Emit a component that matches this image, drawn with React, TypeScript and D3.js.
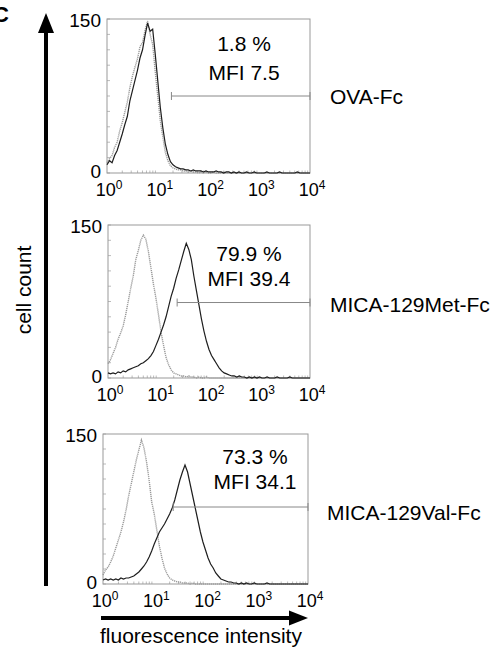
import React from "react";
import * as d3 from "d3";

// Histogram bins: log10 fluorescence from 0 to 4, step 0.05 (81 bins)
const BIN_START = 0;
const BIN_STEP = 0.05;

const OVA_CONTROL = [10, 14, 17, 25, 30, 41, 49, 59, 69, 83, 94, 103, 111, 123, 127, 139, 148, 135, 125, 99, 75, 51, 35, 20, 12, 7, 5, 4, 3, 3, 2, 2, 1, 2, 1, 1, 0, 1, 0, 1, 0, 0, 1, 0, 0, 0, 1, 0, 0, 0, 0, 0, 0, 0, 0, 0, 0, 0, 0, 0, 0, 0, 0, 0, 0, 0, 0, 0, 0, 0, 0, 0, 0, 0, 0, 0, 0, 0, 0, 0, 0];
const OVA_STAINED = [8, 12, 10, 17, 22, 30, 38, 47, 55, 70, 80, 90, 100, 112, 120, 134, 146, 138, 140, 116, 90, 64, 44, 28, 18, 11, 8, 6, 5, 4, 4, 3, 3, 2, 3, 2, 2, 2, 1, 2, 1, 1, 1, 2, 1, 1, 0, 1, 1, 0, 1, 0, 1, 0, 0, 1, 0, 0, 1, 0, 0, 0, 0, 1, 0, 0, 0, 0, 1, 0, 0, 0, 0, 0, 0, 1, 0, 0, 0, 0, 0];

const MET_CONTROL = [14, 18, 24, 30, 38, 44, 51, 62, 75, 88, 100, 116, 125, 135, 140, 136, 124, 108, 92, 78, 62, 45, 32, 20, 13, 8, 5, 4, 3, 2, 2, 1, 2, 1, 1, 0, 1, 0, 0, 1, 0, 0, 0, 0, 0, 0, 0, 0, 0, 0, 0, 0, 0, 0, 0, 0, 0, 0, 0, 0, 0, 0, 0, 0, 0, 0, 0, 0, 0, 0, 0, 0, 0, 0, 0, 0, 0, 0, 0, 0, 0];
const MET_STAINED = [5, 4, 5, 4, 6, 5, 7, 6, 8, 9, 10, 11, 12, 14, 15, 17, 19, 22, 26, 32, 38, 45, 52, 60, 70, 80, 88, 98, 106, 115, 124, 132, 126, 116, 100, 86, 72, 58, 46, 36, 28, 22, 18, 14, 10, 7, 5, 4, 3, 2, 2, 1, 2, 1, 1, 0, 1, 0, 1, 0, 1, 0, 0, 1, 0, 0, 0, 1, 0, 0, 0, 0, 1, 0, 0, 0, 0, 0, 0, 0, 0];

const VAL_CONTROL = [9, 14, 17, 22, 28, 36, 44, 52, 62, 74, 88, 100, 112, 124, 134, 144, 136, 122, 104, 82, 70, 54, 38, 26, 16, 10, 6, 4, 3, 2, 2, 1, 1, 1, 0, 1, 0, 0, 0, 0, 0, 0, 0, 0, 0, 0, 0, 0, 0, 0, 0, 0, 0, 0, 0, 0, 0, 0, 0, 0, 0, 0, 0, 0, 0, 0, 0, 0, 0, 0, 0, 0, 0, 0, 0, 0, 0, 0, 0, 0, 0];
const VAL_STAINED = [4, 5, 4, 5, 4, 5, 4, 6, 5, 6, 6, 7, 8, 10, 12, 15, 18, 22, 27, 33, 40, 46, 52, 56, 60, 65, 70, 76, 84, 94, 104, 112, 119, 112, 100, 88, 76, 64, 52, 42, 34, 26, 20, 16, 11, 8, 5, 4, 3, 2, 2, 1, 1, 0, 1, 0, 1, 0, 0, 1, 0, 0, 0, 0, 1, 0, 0, 0, 0, 0, 0, 0, 0, 0, 0, 0, 0, 0, 0, 0, 0];

const SAMPLE_LABELS = ["OVA-Fc", "MICA-129Met-Fc", "MICA-129Val-Fc"];
const PERCENT_LABELS = ["1.8 %", "79.9 %", "73.3 %"];
const MFI_LABELS = ["MFI 7.5", "MFI 39.4", "MFI 34.1"];
const GATE_START = [18.6, 23.4, 23.4];
const GATE_LEVEL = [75, 74, 77];
const X_TICKS = [1, 10, 100, 1000, 10000];
const X_TICK_EXP = ["0", "1", "2", "3", "4"];
const Y_TICKS = [0, 150];

const CONTROLS = [OVA_CONTROL, MET_CONTROL, VAL_CONTROL];
const STAINED = [OVA_STAINED, MET_STAINED, VAL_STAINED];

const BOXES = [
  { x: 107, y: 19, w: 203, h: 154, tx: 244 },
  { x: 108, y: 225, w: 202, h: 153, tx: 249 },
  { x: 103, y: 434, w: 205, h: 150, tx: 255 },
];
const TEXT_OFFS = [[32, 61], [36, 61], [30, 55]];
const LABEL_POS = [[330, 104], [330, 312], [327, 520]];

const FONT = "'Liberation Sans', Arial, sans-serif";

function Panel({ i }: { i: number }) {
  const b = BOXES[i];
  const x = d3.scaleLog().domain([1, 10000]).range([b.x, b.x + b.w]);
  const y = d3.scaleLinear().domain([0, 150]).range([b.y + b.h, b.y]);
  const line = d3
    .line<number>()
    .x((_, k) => x(Math.pow(10, BIN_START + k * BIN_STEP)))
    .y((v) => y(v))
    .curve(d3.curveLinear);
  const minorX: number[] = [];
  for (let dec = 1; dec < 10000; dec *= 10) {
    for (let m = 2; m <= 9; m++) minorX.push(dec * m);
  }
  const minorY = d3.range(0, 151, 15);
  const gy = y(GATE_LEVEL[i]);
  const gx0 = x(GATE_START[i]);
  const gx1 = x(10000);
  return (
    <g>
      {minorY.map((v) => (
        <line key={"my" + v} x1={b.x} x2={b.x + 3} y1={y(v)} y2={y(v)} stroke="#aaa" strokeWidth={0.8} />
      ))}
      {minorX.map((v) => (
        <line key={"mx" + v} x1={x(v)} x2={x(v)} y1={b.y + b.h} y2={b.y + b.h - 2.5} stroke="#aaa" strokeWidth={0.8} />
      ))}
      <rect x={b.x} y={b.y} width={b.w} height={b.h} fill="none" stroke="#999" strokeWidth={1} />
      <path d={line(CONTROLS[i]) || ""} fill="none" stroke="#9a9a9a" strokeWidth={1.4} strokeDasharray="1.2,0.8" />
      <path d={line(STAINED[i]) || ""} fill="none" stroke="#1e1e1e" strokeWidth={1.2} />
      <line x1={gx0} x2={gx1} y1={gy} y2={gy} stroke="#888" strokeWidth={1} />
      <line x1={gx0} x2={gx0} y1={gy - 4} y2={gy + 4} stroke="#888" strokeWidth={1} />
      <line x1={gx1} x2={gx1} y1={gy - 4} y2={gy + 4} stroke="#888" strokeWidth={1} />
      {X_TICKS.map((t, k) => (
        <text key={"xt" + t} x={x(t) + 2} y={b.y + b.h + 23} textAnchor="middle" fontSize={18} fontFamily={FONT} fill="#000">
          10<tspan fontSize={12} dy={-7}>{X_TICK_EXP[k]}</tspan>
        </text>
      ))}
      {Y_TICKS.map((t) => (
        <text key={"yt" + t} x={b.x - 6} y={y(t) + (t === 0 ? 5 : 8)} textAnchor="end" fontSize={19} fontFamily={FONT} fill="#000">
          {t}
        </text>
      ))}
      <text x={b.tx} y={b.y + TEXT_OFFS[i][0]} textAnchor="middle" fontSize={21} fontFamily={FONT} fill="#000">
        {PERCENT_LABELS[i]}
      </text>
      <text x={b.tx} y={b.y + TEXT_OFFS[i][1]} textAnchor="middle" fontSize={21} fontFamily={FONT} fill="#000">
        {MFI_LABELS[i]}
      </text>
      <text x={LABEL_POS[i][0]} y={LABEL_POS[i][1]} fontSize={21} fontFamily={FONT} fill="#000">
        {SAMPLE_LABELS[i]}
      </text>
    </g>
  );
}

export default function App() {
  return (
    <svg width={500} height={662} style={{ position: "absolute", left: 0, top: 0, background: "#fff" }}>
      <rect width={500} height={662} fill="#fff" />
      <text x={-7} y={22} fontSize={22} fontWeight="bold" fontFamily={FONT}>C</text>
      {/* vertical arrow */}
      <line x1={46} x2={46} y1={586} y2={30} stroke="#000" strokeWidth={4} />
      <path d="M38,33 L46,13 L54,33 Z" fill="#000" />
      <text transform="translate(31,290) rotate(-90)" textAnchor="middle" fontSize={21} fontFamily={FONT}>cell count</text>
      {/* horizontal arrow */}
      <line x1={101} x2={292} y1={618} y2={618} stroke="#000" strokeWidth={4} />
      <path d="M289,610.5 L308,618 L289,625.5 Z" fill="#000" />
      <text x={201} y={643} textAnchor="middle" fontSize={21} fontFamily={FONT}>fluorescence intensity</text>
      {[0, 1, 2].map((i) => (
        <Panel key={i} i={i} />
      ))}
    </svg>
  );
}
